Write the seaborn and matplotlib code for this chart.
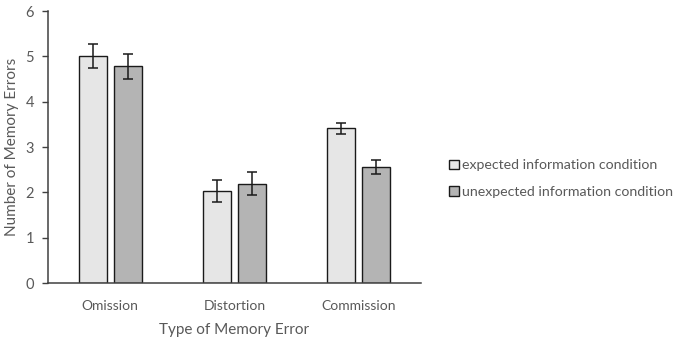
import pandas as pd
import numpy as np
import matplotlib
matplotlib.use('Agg')
import matplotlib.pyplot as plt
import seaborn as sns

# data
error_types = ['Omission', 'Distortion', 'Commission']
conditions = ['expected information condition', 'unexpected information condition']
expected_mean = [5.01, 2.03, 3.41]
expected_err = [0.26, 0.25, 0.13]
unexpected_mean = [4.78, 2.19, 2.56]
unexpected_err = [0.28, 0.25, 0.15]

df = pd.DataFrame({
    'type': error_types * 2,
    'cond': [conditions[0]] * 3 + [conditions[1]] * 3,
    'mean': expected_mean + unexpected_mean,
})
errs = [expected_err, unexpected_err]

sns.set_style('white')
plt.rcParams['font.family'] = ['Lato', 'DejaVu Sans']
text_col = '#595959'

fig = plt.figure(figsize=(6.79, 3.4), dpi=100)
ax = fig.add_axes([0.0707, 0.1676, 0.5493, 0.80])

sns.barplot(data=df, x='type', y='mean', hue='cond', order=error_types,
            hue_order=conditions, palette=['#e6e6e6', '#b4b4b4'],
            edgecolor='#1a1a1a', linewidth=1.0, width=0.565, gap=0.2,
            errorbar=None, ax=ax)

# error bars at the drawn bar positions
for cont, e in zip(ax.containers, errs):
    xs = [b.get_x() + b.get_width() / 2 for b in cont]
    ys = [b.get_height() for b in cont]
    ax.errorbar(xs, ys, yerr=e, fmt='none', ecolor='#1a1a1a',
                elinewidth=1.1, capsize=3.5, capthick=1.1)

ax.set_ylim(0, 6)
ax.set_xlim(-0.5, 2.5)
ax.set_yticks(range(0, 7))
ax.set_xticks([-0.5, 0.5, 1.5, 2.5], minor=True)
ax.tick_params(axis='x', which='major', length=0, pad=12, labelsize=10, labelcolor=text_col)
ax.tick_params(axis='x', which='minor', length=4, width=1, color='#404040', direction='out')
ax.tick_params(axis='y', length=4, width=1, color='#404040', direction='out',
               labelsize=10.5, labelcolor=text_col, left=True, pad=6)

for s in ['top', 'right']:
    ax.spines[s].set_visible(False)
for s in ['left', 'bottom']:
    ax.spines[s].set_color('#404040')
    ax.spines[s].set_linewidth(1.1)

ax.set_xlabel('Type of Memory Error', fontsize=11, color=text_col, labelpad=8)
ax.set_ylabel('Number of Memory Errors', fontsize=11, color=text_col, labelpad=5)

handles, labels = ax.get_legend_handles_labels()
ax.legend(handles, labels, loc='center left', bbox_to_anchor=(0.642, 0.475),
          bbox_transform=fig.transFigure, frameon=False, fontsize=10.2,
          handlelength=0.7, handleheight=0.7, handletextpad=0.25,
          labelspacing=1.0, labelcolor=text_col)

fig.savefig('out.png', dpi=100)
